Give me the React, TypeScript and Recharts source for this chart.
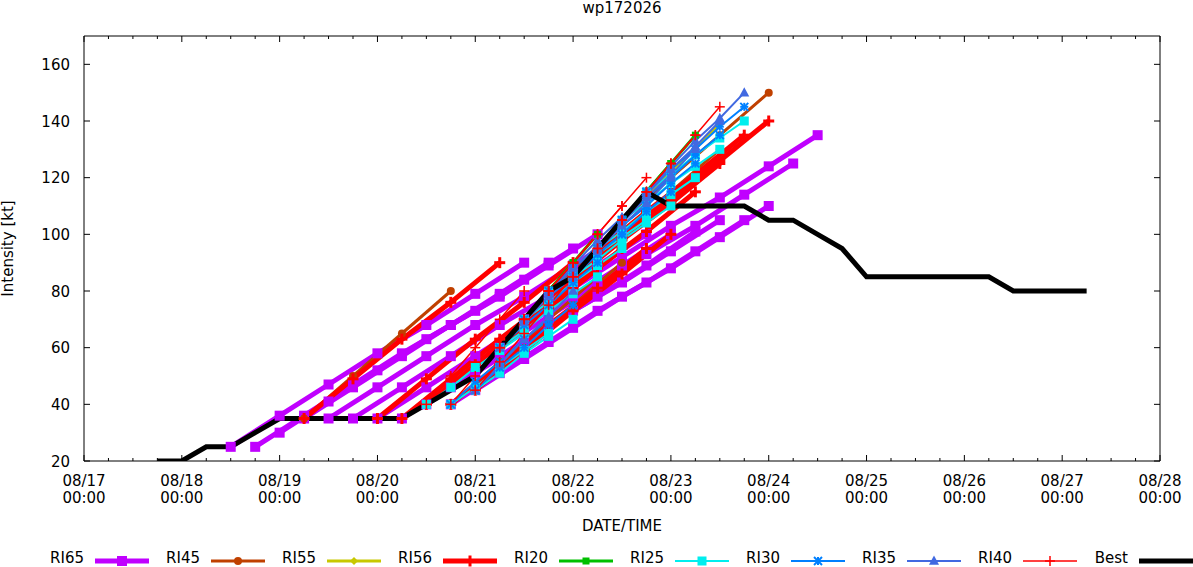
import React from 'react';
import { LineChart, Line, XAxis, YAxis, ReferenceArea } from 'recharts';

// ---- layout ----
const W = 1193;
const H = 567;
const PLOT_LEFT = 84;
const PLOT_TOP = 36;
const PLOT_RIGHT = 1160;
const PLOT_BOTTOM = 461;
const PLOT_W = PLOT_RIGHT - PLOT_LEFT;
const PLOT_H = PLOT_BOTTOM - PLOT_TOP;
const Y_AXIS_W = 60;
const X_AXIS_H = 60;
const FONT = '"DejaVu Sans", sans-serif';

// ---- axes ----
// hours since 08/17 00:00
const DATE_LABELS = ['08/17', '08/18', '08/19', '08/20', '08/21', '08/22', '08/23', '08/24', '08/25', '08/26', '08/27', '08/28'];
const Y_TICKS = [20, 40, 60, 80, 100, 120, 140, 160];

// ---- best track ----
const BEST_HOURS = [18, 24, 30, 36, 42, 48, 54, 60, 66, 72, 78, 84, 90, 96, 102, 108, 114, 120, 126, 132, 138, 144, 150, 156, 162, 168, 174, 180, 186, 192, 198, 204, 210, 216, 222, 228, 234, 240, 246];
const BEST_KT = [20, 20, 25, 25, 30, 35, 35, 35, 35, 35, 35, 40, 45, 50, 60, 70, 80, 85, 95, 105, 115, 110, 110, 110, 110, 105, 105, 100, 95, 85, 85, 85, 85, 85, 85, 80, 80, 80, 80];

// ---- RI forecasts (init hour + values at fixed step) ----
const RI65_INIT = [36, 42, 48, 54, 60, 66, 72, 78, 84, 90, 96, 102, 108];
const RI65_KT = [
  [25, 36, 47, 58, 68, 79, 90],
  [25, 36, 47, 58, 68, 79, 90],
  [30, 41, 52, 63, 73, 84, 95],
  [35, 46, 57, 68, 78, 89, 100],
  [35, 46, 57, 68, 78, 89, 100],
  [35, 46, 57, 68, 78, 89, 100],
  [35, 46, 57, 68, 78, 89, 100],
  [35, 46, 57, 68, 78, 89, 101],
  [40, 51, 62, 73, 83, 94, 105],
  [40, 51, 62, 73, 83, 94, 105],
  [45, 56, 67, 78, 88, 99, 110],
  [60, 71, 82, 93, 103, 114, 125],
  [70, 81, 92, 103, 113, 124, 135],
];

const RI45_INIT = [54, 90, 96, 120, 132];
const RI45_KT = [
  [35, 50, 65, 80],
  [40, 55, 70, 85],
  [45, 60, 75, 90],
  [85, 100, 115, 130],
  [105, 120, 135, 150],
];

const RI55_INIT = [132];
const RI55_KT = [[105, 122, 139]];

const RI56_INIT = [54, 72, 78, 84, 90, 96, 102, 108, 114, 120];
const RI56_KT = [
  [35, 49, 63, 76, 90],
  [35, 49, 63, 76, 90],
  [35, 49, 63, 76, 90],
  [40, 54, 68, 81, 95],
  [40, 54, 68, 81, 95],
  [45, 59, 73, 86, 100],
  [60, 74, 88, 101, 115],
  [70, 84, 98, 111, 125],
  [80, 94, 108, 121, 135],
  [85, 99, 113, 126, 140],
];

const RI20_INIT = [102, 108, 114, 120, 126, 132, 138];
const RI20_KT = [
  [60, 70, 80],
  [70, 80, 90],
  [80, 90, 100],
  [85, 95, 105],
  [95, 105, 115],
  [105, 115, 125],
  [115, 125, 135],
];

const RI25_INIT = [84, 90, 96, 102, 108, 114, 120, 126, 132, 138];
const RI25_KT = [
  [40, 46, 53, 59, 65],
  [40, 46, 53, 59, 65],
  [45, 51, 58, 64, 70],
  [60, 66, 73, 79, 85],
  [70, 76, 83, 89, 95],
  [80, 86, 93, 99, 105],
  [85, 91, 98, 104, 110],
  [95, 101, 108, 114, 120],
  [105, 111, 118, 124, 130],
  [115, 121, 128, 134, 140],
];

const RI30_INIT = [90, 96, 102, 108, 114, 120, 126, 132, 138];
const RI30_KT = [
  [40, 48, 55, 63, 70],
  [45, 53, 60, 68, 75],
  [60, 68, 75, 83, 90],
  [70, 78, 85, 93, 100],
  [80, 88, 95, 103, 110],
  [85, 93, 100, 108, 115],
  [95, 103, 110, 118, 125],
  [105, 113, 120, 128, 135],
  [115, 123, 130, 138, 145],
];

const RI35_INIT = [96, 102, 108, 114, 120, 126, 132, 138];
const RI35_KT = [
  [45, 54, 63, 71, 80],
  [60, 69, 78, 86, 95],
  [70, 79, 88, 96, 105],
  [80, 89, 98, 106, 115],
  [85, 94, 103, 111, 120],
  [95, 104, 113, 121, 130],
  [105, 114, 123, 131, 140],
  [115, 124, 133, 141, 150],
];

const RI40_INIT = [84, 90, 96, 102, 108, 114, 120, 126, 132];
const RI40_KT = [
  [40, 50, 60, 70, 80],
  [40, 50, 60, 70, 80],
  [45, 55, 65, 75, 85],
  [60, 70, 80, 90, 100],
  [70, 80, 90, 100, 110],
  [80, 90, 100, 110, 120],
  [85, 95, 105, 115, 125],
  [95, 105, 115, 125, 135],
  [105, 115, 125, 135, 145],
];

// ---- markers ----
type Shape = 'square' | 'circle' | 'diamond' | 'plus' | 'star' | 'triangle' | 'none';

function Marker({ cx, cy, shape, size, color, sw }: { cx: number; cy: number; shape: Shape; size: number; color: string; sw: number }) {
  const s = size / 2;
  if (cx == null || cy == null || shape === 'none') return null;
  switch (shape) {
    case 'square':
      return <rect x={cx - s} y={cy - s} width={size} height={size} fill={color} />;
    case 'circle':
      return <circle cx={cx} cy={cy} r={s} fill={color} />;
    case 'diamond':
      return <polygon points={`${cx},${cy - s} ${cx + s},${cy} ${cx},${cy + s} ${cx - s},${cy}`} fill={color} />;
    case 'plus':
      return (
        <g stroke={color} strokeWidth={sw}>
          <line x1={cx - s} x2={cx + s} y1={cy} y2={cy} />
          <line x1={cx} x2={cx} y1={cy - s} y2={cy + s} />
        </g>
      );
    case 'star':
      return (
        <g stroke={color} strokeWidth={sw}>
          <line x1={cx - s} x2={cx + s} y1={cy - s} y2={cy + s} />
          <line x1={cx - s} x2={cx + s} y1={cy + s} y2={cy - s} />
          <line x1={cx - s} x2={cx + s} y1={cy} y2={cy} />
          <line x1={cx} x2={cx} y1={cy - s} y2={cy + s} />
        </g>
      );
    case 'triangle':
      return <polygon points={`${cx},${cy - s * 1.1} ${cx + s},${cy + s * 0.75} ${cx - s},${cy + s * 0.75}`} fill={color} />;
    default:
      return null;
  }
}

interface SeriesStyle {
  name: string;
  color: string;
  width: number;
  shape: Shape;
  size: number;
  markW: number;
  step: number;
  inits: number[];
  values: number[][];
}

const SERIES: SeriesStyle[] = [
  { name: 'RI65', color: '#C000FF', width: 5, shape: 'square', size: 10, markW: 1, step: 12, inits: RI65_INIT, values: RI65_KT },
  { name: 'RI45', color: '#C04000', width: 3, shape: 'circle', size: 8, markW: 1, step: 12, inits: RI45_INIT, values: RI45_KT },
  { name: 'RI55', color: '#C8C800', width: 3, shape: 'diamond', size: 8, markW: 1, step: 12, inits: RI55_INIT, values: RI55_KT },
  { name: 'RI56', color: '#FF0000', width: 5, shape: 'plus', size: 11, markW: 3, step: 12, inits: RI56_INIT, values: RI56_KT },
  { name: 'RI20', color: '#00C000', width: 3, shape: 'square', size: 7, markW: 1, step: 6, inits: RI20_INIT, values: RI20_KT },
  { name: 'RI25', color: '#00EEEE', width: 2, shape: 'square', size: 9, markW: 1, step: 6, inits: RI25_INIT, values: RI25_KT },
  { name: 'RI30', color: '#0080FF', width: 2, shape: 'star', size: 8, markW: 2, step: 6, inits: RI30_INIT, values: RI30_KT },
  { name: 'RI35', color: '#4169E1', width: 2, shape: 'triangle', size: 10, markW: 1, step: 6, inits: RI35_INIT, values: RI35_KT },
  { name: 'RI40', color: '#FF0000', width: 1.5, shape: 'plus', size: 10, markW: 1.5, step: 6, inits: RI40_INIT, values: RI40_KT },
];

const BEST_STYLE = { name: 'Best', color: '#000000', width: 5 };

const bestData = BEST_HOURS.map((h, i) => ({ h, v: BEST_KT[i] }));

// ---- axis ticks ----
const X_TICKS: number[] = [];
for (let h = 0; h <= 264; h += 6) X_TICKS.push(h);

function XTick(props: any) {
  const { x, y, payload } = props;
  const h = payload.value as number;
  const major = h % 24 === 0;
  const len = major ? 6 : 3;
  return (
    <g>
      <line x1={x} x2={x} y1={y} y2={y - len} stroke="#000" />
      <line x1={x} x2={x} y1={y - PLOT_H} y2={y - PLOT_H + len} stroke="#000" />
      {major && (
        <text x={x} textAnchor="middle" fontFamily={FONT} fontSize={15} fill="#000">
          <tspan x={x} y={y + 25}>{DATE_LABELS[h / 24]}</tspan>
          <tspan x={x} y={y + 42}>00:00</tspan>
        </text>
      )}
    </g>
  );
}

function YTick(props: any) {
  const { x, y, payload } = props;
  return (
    <g>
      <line x1={x} x2={x + 6} y1={y} y2={y} stroke="#000" />
      <line x1={x + PLOT_W - 6} x2={x + PLOT_W} y1={y} y2={y} stroke="#000" />
      <text x={x - 14} y={y} dy={5.5} textAnchor="end" fontFamily={FONT} fontSize={15} fill="#000">
        {payload.value}
      </text>
    </g>
  );
}

// ---- legend ----
const LEGEND_ITEMS = [...SERIES.map((s) => ({ name: s.name, color: s.color, width: s.width, shape: s.shape, size: s.size, markW: s.markW })),
  { name: BEST_STYLE.name, color: BEST_STYLE.color, width: BEST_STYLE.width, shape: 'none' as Shape, size: 0, markW: 1 }];

function LegendRow() {
  const y = 561;
  return (
    <g>
      {LEGEND_ITEMS.map((it, i) => {
        const s = 95 + i * 116;
        return (
          <g key={it.name}>
            <text x={s - 11} y={y + 2} textAnchor="end" fontFamily={FONT} fontSize={15} fill="#000">{it.name}</text>
            <line x1={s} x2={s + 54} y1={y} y2={y} stroke={it.color} strokeWidth={it.width} />
            <Marker cx={s + 27} cy={y} shape={it.shape} size={it.size} color={it.color} sw={it.markW} />
          </g>
        );
      })}
    </g>
  );
}

export default function App() {
  const lines: React.ReactNode[] = [];
  SERIES.forEach((s) => {
    s.inits.forEach((init, k) => {
      const pts = s.values[k].map((v, i) => ({ h: init + i * s.step, v }));
      lines.push(
        <Line
          key={`${s.name}-${init}`}
          data={pts}
          dataKey="v"
          type="linear"
          stroke={s.color}
          strokeWidth={s.width}
          strokeLinejoin="miter"
          dot={(p: any) => (
            <Marker key={`${s.name}-${init}-${p.index}`} cx={p.cx} cy={p.cy} shape={s.shape} size={s.size} color={s.color} sw={s.markW} />
          )}
          activeDot={false}
          legendType="none"
          isAnimationActive={false}
        />,
      );
    });
  });

  return (
    <div style={{ position: 'relative', width: W, height: H, background: '#fff' }}>
      <style>{`body{margin:0}`}</style>
      <LineChart
        width={W}
        height={H}
        margin={{ top: PLOT_TOP, left: PLOT_LEFT - Y_AXIS_W, right: W - PLOT_RIGHT, bottom: H - PLOT_BOTTOM - X_AXIS_H }}
      >
        <XAxis
          type="number"
          dataKey="h"
          domain={[0, 264]}
          ticks={X_TICKS}
          interval={0}
          allowDataOverflow
          axisLine={false}
          tickLine={false}
          tickSize={0}
          tickMargin={0}
          height={X_AXIS_H}
          tick={<XTick />}
        />
        <YAxis
          type="number"
          domain={[20, 170]}
          ticks={Y_TICKS}
          interval={0}
          allowDataOverflow
          axisLine={false}
          tickLine={false}
          tickSize={0}
          tickMargin={0}
          width={Y_AXIS_W}
          tick={<YTick />}
        />
        <ReferenceArea x1={0} x2={264} y1={20} y2={170} fill="none" stroke="#000" strokeWidth={1} fillOpacity={0} />
        {lines}
        <Line
          data={bestData}
          dataKey="v"
          type="linear"
          stroke={BEST_STYLE.color}
          strokeWidth={BEST_STYLE.width}
          dot={false}
          activeDot={false}
          legendType="none"
          isAnimationActive={false}
        />
      </LineChart>
      <svg width={W} height={H} style={{ position: 'absolute', left: 0, top: 0, pointerEvents: 'none' }}>
        <text x={(PLOT_LEFT + PLOT_RIGHT) / 2} y={13} textAnchor="middle" fontFamily={FONT} fontSize={15} fill="#000">wp172026</text>
        <text x={(PLOT_LEFT + PLOT_RIGHT) / 2} y={531} textAnchor="middle" fontFamily={FONT} fontSize={15} fill="#000">DATE/TIME</text>
        <text transform="rotate(-90)" x={-(PLOT_TOP + PLOT_BOTTOM) / 2} y={13} textAnchor="middle" fontFamily={FONT} fontSize={15} fill="#000">Intensity [kt]</text>
        <LegendRow />
      </svg>
    </div>
  );
}
